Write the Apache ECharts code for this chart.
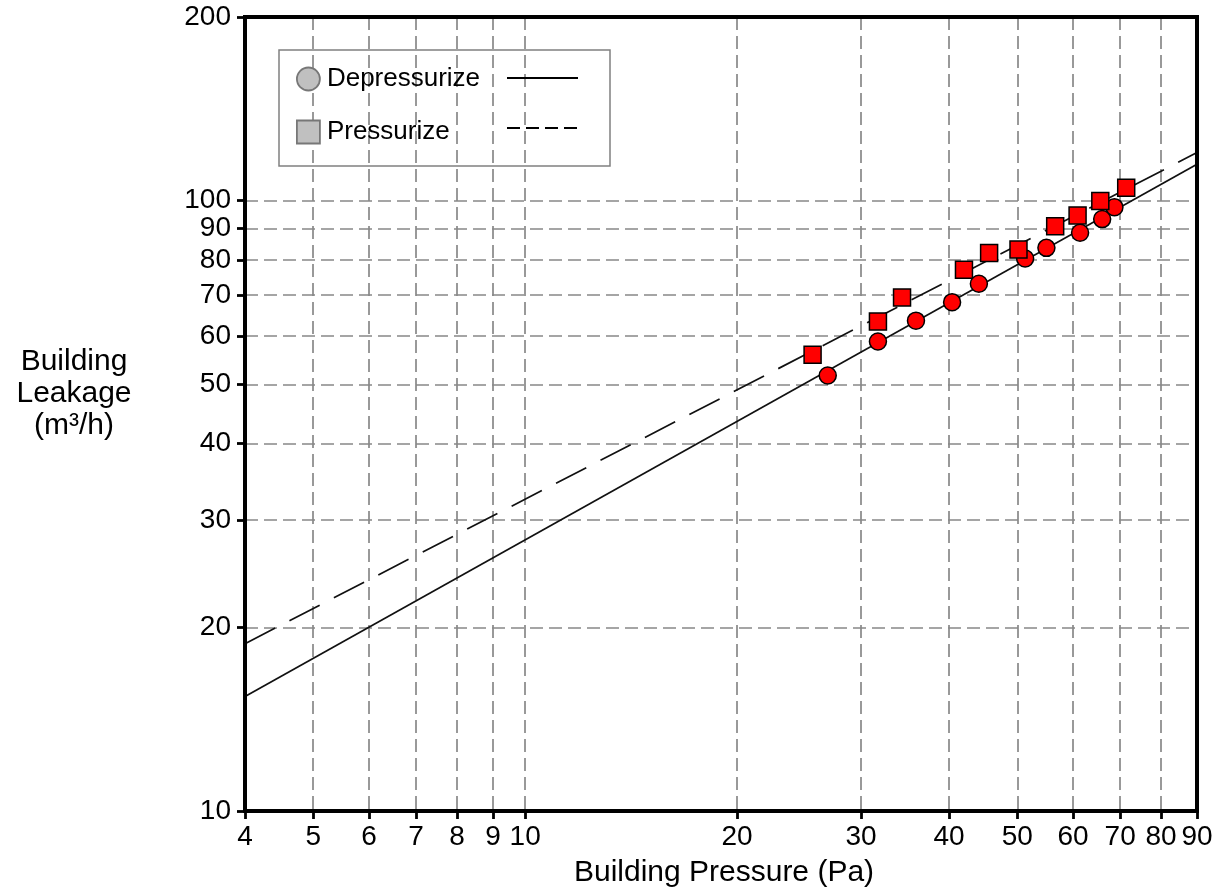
<!DOCTYPE html>
<html>
<head>
<meta charset="utf-8">
<script src="https://cdn.jsdelivr.net/npm/echarts@6/dist/echarts.min.js"></script>
<style>
html,body{margin:0;padding:0;background:#fff;}
#chart{width:1217px;height:891px;}
</style>
</head>
<body>
<div id="chart"></div>
<script>
// Measured points (Building Pressure Pa, Building Leakage m3/h)
const depX = [26.9, 31.7, 35.9, 40.4, 44.1, 51.3, 55.0, 61.4, 66.0, 68.7];
const depY = [51.7, 58.8, 63.6, 68.2, 73.1, 80.4, 83.7, 88.6, 93.3, 97.6];
const presX = [25.6, 31.7, 34.3, 42.0, 45.6, 50.2, 56.6, 60.9, 65.6, 71.4];
const presY = [55.9, 63.4, 69.4, 77.1, 82.1, 83.2, 90.8, 94.6, 99.9, 105.0];
// Fitted power-law lines (end points)
const fitX = [4, 90];
const depFitY = [15.4, 114.7];
const presFitY = [18.8, 119.9];
// Axis ticks
const xTicks = [4, 5, 6, 7, 8, 9, 10, 20, 30, 40, 50, 60, 70, 80, 90];
const yTicks = [10, 20, 30, 40, 50, 60, 70, 80, 90, 100, 200];

const FONT = '"Liberation Sans", Arial, sans-serif';
const zip = (a, b) => a.map((v, i) => [v, b[i]]);

const chart = echarts.init(document.getElementById('chart'), null, {renderer: 'canvas'});

const gridLine = {show: true, lineStyle: {color: '#888888', width: 1.7, type: [13, 6]}};

chart.setOption({
  animation: false,
  backgroundColor: '#ffffff',
  grid: {
    left: 245, right: 20, top: 17, bottom: 80,
    show: true, borderColor: '#000', borderWidth: 4, backgroundColor: 'transparent',
    z: 3, containLabel: false, outerBoundsMode: 'none'
  },
  title: {
    text: 'Building\nLeakage\n(m³/h)',
    left: 69, top: 341, textAlign: 'center',
    textStyle: {fontFamily: FONT, fontSize: 30, fontWeight: 'normal', color: '#000', lineHeight: 32}
  },
  legend: {
    data: ['Depressurize', 'Pressurize'],
    orient: 'vertical',
    left: 296, top: 66,
    itemWidth: 23, itemHeight: 23, itemGap: 27,
    padding: 0,
    textStyle: {fontFamily: FONT, fontSize: 26, color: '#000', padding: [0, 0, 0, 2]},
    itemStyle: {color: '#c0c0c0', borderColor: '#777777', borderWidth: 1.8}
  },
  xAxis: {
    type: 'log', logBase: 10, min: 4, max: 90,
    name: 'Building Pressure (Pa)', nameLocation: 'middle', nameGap: 47,
    nameTextStyle: {fontFamily: FONT, fontSize: 30, color: '#000', padding: [0, 0, 0, 6]},
    axisLine: {show: false},
    axisTick: {show: true, inside: false, length: 8, customValues: xTicks, lineStyle: {color: '#000', width: 2.8}},
    axisLabel: {show: true, customValues: xTicks, margin: 12, fontFamily: FONT, fontSize: 28, color: '#000', hideOverlap: false, showMinLabel: true, showMaxLabel: true},
    splitLine: gridLine,
    minorTick: {show: false}, minorSplitLine: {show: false}
  },
  yAxis: {
    type: 'log', logBase: 10, min: 10, max: 200,
    axisLine: {show: false},
    axisTick: {show: true, inside: false, length: 8, customValues: yTicks, lineStyle: {color: '#000', width: 2.8}},
    axisLabel: {show: true, customValues: yTicks, margin: 14, fontFamily: FONT, fontSize: 28, color: '#000', hideOverlap: false, showMinLabel: true, showMaxLabel: true},
    splitLine: gridLine,
    minorTick: {show: false}, minorSplitLine: {show: false}
  },
  graphic: [
    {type: 'rect', z: 10, shape: {x: 279, y: 50, width: 331, height: 116}, style: {fill: 'none', stroke: '#808080', lineWidth: 1.5}},
    {type: 'line', z: 10, shape: {x1: 507, y1: 78, x2: 578, y2: 78}, style: {stroke: '#000', lineWidth: 2.2}},
    {type: 'line', z: 10, shape: {x1: 507, y1: 128, x2: 578, y2: 128}, style: {stroke: '#000', lineWidth: 2.2, lineDash: [13, 6]}}
  ],
  series: [
    {
      name: 'Depressurize fit', type: 'line', data: zip(fitX, depFitY),
      showSymbol: false, symbol: 'none', z: 1, silent: true,
      lineStyle: {color: '#111', width: 1.7, type: 'solid'}
    },
    {
      name: 'Pressurize fit', type: 'line', data: zip(fitX, presFitY),
      showSymbol: false, symbol: 'none', z: 1, silent: true,
      lineStyle: {color: '#111', width: 1.7, type: [34, 16]}
    },
    {
      name: 'Depressurize', type: 'scatter', data: zip(depX, depY),
      symbol: 'circle', symbolSize: 17, z: 2,
      itemStyle: {color: '#ff0000', borderColor: '#000', borderWidth: 1.5, opacity: 1}
    },
    {
      name: 'Pressurize', type: 'scatter', data: zip(presX, presY),
      symbol: 'rect', symbolSize: 17, z: 2,
      itemStyle: {color: '#ff0000', borderColor: '#000', borderWidth: 1.5, opacity: 1}
    }
  ]
});
</script>
</body>
</html>
